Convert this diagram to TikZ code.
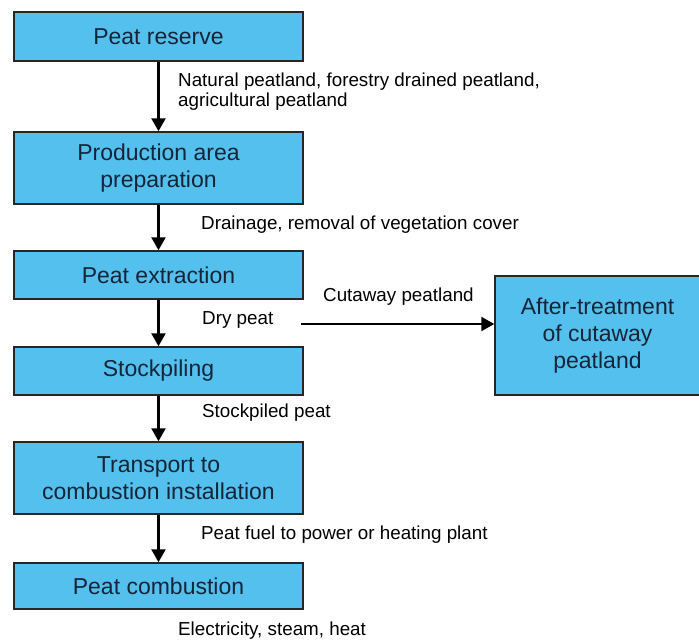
\documentclass[tikz,border=0pt]{standalone}
\usepackage{fontspec}
\setmainfont{Liberation Sans}
\usepackage{tikz}
\usetikzlibrary{arrows.meta}
\usetikzlibrary{positioning}
\definecolor{peatblue}{RGB}{84,192,238}
\definecolor{boxtext}{RGB}{22,36,56}
\tikzset{flow/.style={-{Triangle[width=14pt,length=13pt]},line width=2.4pt,black}}

\begin{document}
\begin{tikzpicture}[x=1pt,y=-1pt]
  % some styles
  \tikzset{
    stage/.style={
      rectangle,
      draw=black!85,
      line width=1.5pt,
      fill=peatblue,
      text=boxtext,
      minimum width=289pt,
      inner sep=0pt,
      align=center,
      font=\fontsize{23}{27}\selectfont
    }
  }
  \tikzset{note/.style={anchor=west,inner sep=0pt,align=left,font=\fontsize{18.8}{20}\selectfont}}

\useasboundingbox (0,0) rectangle (699,642);

\node[stage, minimum height=49pt] (reserve) at (158.5,36.5) {Peat reserve};
\node[stage, minimum height=72pt] (prep) at (158.5,168) {Production area\\preparation};
\node[stage, minimum height=48pt] (extract) at (158.5,275) {Peat extraction};
\node[stage, minimum height=48pt] (stock) at (158.5,371) {Stockpiling};
\node[stage, minimum height=72pt] (transp) at (158.5,478) {Transport to\\combustion installation};
\node[stage, minimum height=46pt] (comb) at (158.5,586) {Peat combustion};
\node[stage, minimum width=205pt, minimum height=119pt] (after) at (597.5,335.5) {After-treatment\\of cutaway\\peatland};

\node[note] (natural) at (178,92) {Natural peatland, forestry drained peatland,\\agricultural peatland};
\node[note] (drain) at (201,225) {Drainage, removal of vegetation cover};
\node[note] (dry) at (202,320) {Dry peat};
\node[note] (cutaway) at (323,297) {Cutaway peatland};
\node[note] (stockd) at (202,413) {Stockpiled peat};
\node[note] (fuel) at (201,535) {Peat fuel to power or heating plant};
\node[note] (elec) at (178,631) {Electricity, steam, heat};

\draw[flow] (reserve) -- (prep);
\draw[flow] (prep) -- (extract);
\draw[flow] (extract) -- (stock);
\draw[flow] (stock) -- (transp);
\draw[flow] (transp) -- (comb);

\coordinate (cutstart) at (301,324);
\draw[flow] (cutstart) -- (after.west |- cutstart);

\end{tikzpicture}
\end{document}
